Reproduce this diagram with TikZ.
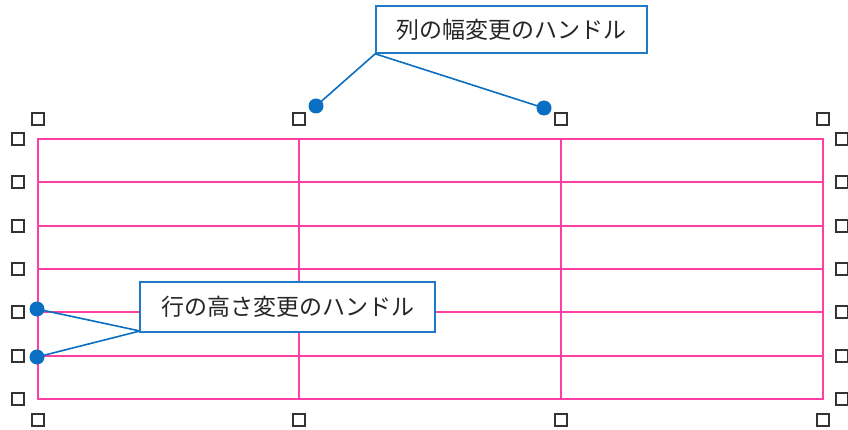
\documentclass[tikz,border=0pt]{standalone}
\usepackage{fontspec}
\newfontfamily\cjk{Noto Sans CJK JP}
\definecolor{gridpink}{HTML}{FF3FA4}
\definecolor{callblue}{HTML}{1F78C8}
\definecolor{dotblue}{HTML}{0A6FC2}
\definecolor{sqgray}{HTML}{333333}
\begin{document}
\begin{tikzpicture}[x=1pt,y=-1pt,
  gridline/.style={draw=gridpink,line width=1.8pt},
  sq/.style={draw=sqgray,line width=1.7pt,fill=white,minimum size=12pt,inner sep=0pt,outer sep=0pt,rectangle},
  callbox/.style={draw=callblue,line width=1.6pt,fill=white,inner sep=0pt,font=\cjk\fontsize{23pt}{23pt}\selectfont,text=black!85},
  dot/.style={circle,fill=dotblue,minimum size=15pt,inner sep=0pt},
  leader/.style={draw=dotblue,line width=1.6pt}]
\useasboundingbox (0,0) rectangle (848,430);
% grid
\draw[gridline] (38,139) rectangle (823,399);
\foreach \yy in {182,226,269,312,356} \draw[gridline] (38,\yy) -- (823,\yy);
\foreach \xx in {299,561} \draw[gridline] (\xx,139) -- (\xx,399);
% handles
\foreach \xx/\n in {38/a,299/b,561/c,823/d} {
  \node[sq] (t\n) at (\xx,119) {};
  \node[sq] (b\n) at (\xx,420) {};
}
\foreach \yy/\n in {139/1,182/2,226/3,269/4,312/5,356/6,399/7} {
  \node[sq] (l\n) at (18,\yy) {};
  \node[sq] (r\n) at (842,\yy) {};
}
% top callout
\node[callbox,minimum width=271pt,minimum height=47pt] (topbox) at (511.5,29.5) {列の幅変更のハンドル};
\coordinate (d1c) at (316,106);
\coordinate (d2c) at (544,108);
\draw[leader] (topbox.south west) -- (d1c);
\draw[leader] (topbox.south west) -- (d2c);
\node[dot] (d1) at (d1c) {};
\node[dot] (d2) at (d2c) {};
% bottom callout
\coordinate (d3c) at (37,309);
\coordinate (d4c) at (37,357);
\coordinate (bc) at (140,331);
\draw[leader] (bc) -- (d3c);
\draw[leader] (bc) -- (d4c);
\node[dot] (d3) at (d3c) {};
\node[dot] (d4) at (d4c) {};
\node[callbox,minimum width=295pt,minimum height=50pt] (botbox) at (287.5,307) {行の高さ変更のハンドル};
\end{tikzpicture}
\end{document}
